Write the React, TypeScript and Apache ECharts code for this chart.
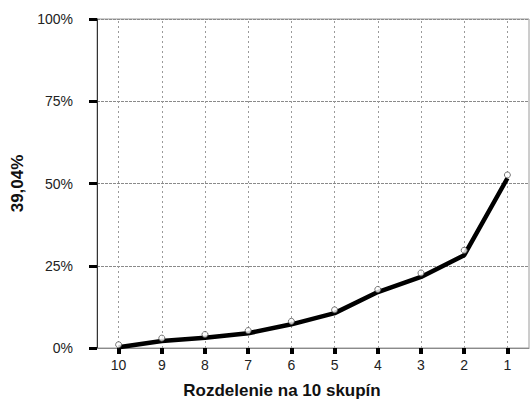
import React, { useEffect, useRef } from "react";
import * as echarts from "echarts";

const categories = ["10", "9", "8", "7", "6", "5", "4", "3", "2", "1"];
const lineValues = [0.2, 2.1, 3.1, 4.5, 7.2, 10.6, 17.0, 21.6, 28.2, 51.6];
const markerValues = [1.0, 3.0, 4.1, 5.3, 8.1, 11.6, 17.8, 22.8, 29.7, 52.6];
const yTicks = [0, 25, 50, 75, 100];
const yAxisName = "39,04%";
const xAxisName = "Rozdelenie na 10 skupín";

const FONT = "'Liberation Sans', Arial, sans-serif";

export default function App() {
  const ref = useRef<HTMLDivElement>(null);
  useEffect(() => {
    if (!ref.current) return;
    const chart = echarts.init(ref.current, null, { renderer: "svg" });
    chart.setOption({
      animation: false,
      backgroundColor: "#ffffff",
      textStyle: { fontFamily: FONT },
      grid: {
        left: 97,
        right: 1,
        top: 19,
        bottom: 53,
        show: true,
        borderColor: "#9a9a9a",
        borderWidth: 1,
        backgroundColor: "transparent",
      },
      xAxis: {
        type: "category",
        data: categories,
        boundaryGap: true,
        axisLine: { show: true, lineStyle: { color: "#8a8a8a", width: 1 } },
        axisTick: {
          show: true,
          alignWithLabel: true,
          length: 6,
          inside: false,
          lineStyle: { color: "#000", width: 4 },
        },
        axisLabel: { color: "#222", fontSize: 14, margin: 10, fontFamily: FONT },
        splitLine: { show: false },
      },
      yAxis: {
        type: "value",
        min: yTicks[0],
        max: yTicks[yTicks.length - 1],
        interval: 25,
        name: yAxisName,
        nameLocation: "middle",
        nameGap: 70,
        nameRotate: 90,
        nameTextStyle: { fontSize: 17, fontWeight: "bold", color: "#111", fontFamily: FONT },
        axisLine: { show: true, lineStyle: { color: "#333", width: 1 } },
        axisTick: { show: true, length: 8, inside: false, lineStyle: { color: "#000", width: 3 } },
        axisLabel: {
          color: "#222",
          fontSize: 14,
          margin: 24,
          fontFamily: FONT,
          formatter: "{value}%",
        },
        splitLine: { show: true, lineStyle: { color: "#8a8a8a", type: [3, 1], width: 1 } },
      },
      graphic: [
        {
          type: "text",
          x: 282,
          y: 390,
          style: {
            text: xAxisName,
            font: `bold 17px ${FONT}`,
            fill: "#111",
            textAlign: "center",
            textVerticalAlign: "middle",
          },
        },
      ],
      series: [
        {
          type: "line",
          data: lineValues,
          symbol: "none",
          z: 2,
          lineStyle: { color: "#000", width: 4.5 },
          markLine: {
            silent: true,
            symbol: "none",
            z: 1,
            label: { show: false },
            lineStyle: { color: "#9a9a9a", type: [2, 3], width: 1 },
            data: categories.map((c) => ({ xAxis: c })),
          },
        },
        {
          type: "scatter",
          data: markerValues,
          symbol: "circle",
          symbolSize: 6,
          z: 3,
          itemStyle: { color: "#ffffff", borderColor: "#555", borderWidth: 1 },
        },
      ],
    });
    return () => chart.dispose();
  }, []);
  return (
    <div
      ref={ref}
      style={{ position: "fixed", left: 0, top: 0, width: 530, height: 401 }}
    />
  );
}
